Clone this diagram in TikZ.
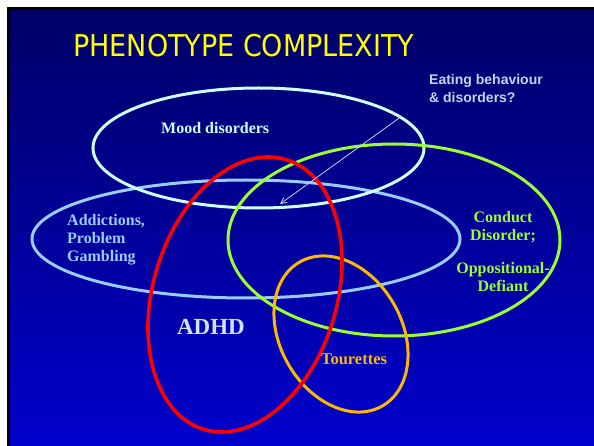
\documentclass[tikz,border=0pt]{standalone}
\usepackage{fontspec}
\setmainfont{Liberation Serif}
\setsansfont{Liberation Sans}
\newfontfamily\titlefont{DejaVu Sans Condensed}
\usetikzlibrary{arrows.meta}
\definecolor{slidetop}{HTML}{000066}
\definecolor{slidebot}{HTML}{0000CC}
\definecolor{moodc}{HTML}{CCFFFF}
\definecolor{addc}{HTML}{99CCFF}
\definecolor{condc}{HTML}{99FF33}
\definecolor{tourc}{HTML}{FFB800}
\definecolor{eatc}{HTML}{C4D4F4}
\definecolor{adhdc}{HTML}{CCE5FF}
\definecolor{titlec}{HTML}{FFFF00}
\begin{document}
\begin{tikzpicture}[x=1pt,y=-1pt,
  ring/.style={line width=3pt},
  lbl/.style={font=\bfseries\fontsize{16}{18}\selectfont, inner sep=0pt},
  pointer/.style={draw=eatc, line width=0.8pt, -{Straight Barb[length=6pt,width=6pt]}}]
\useasboundingbox (0,0) rectangle (594,446);
% slide background
\fill[white] (0,0) rectangle (594,446);
\shade[top color=slidetop, bottom color=slidebot] (8,8) rectangle (594,446);
\draw[black, line width=3pt] (8.5,446) -- (8.5,8.5) -- (594,8.5);

% title
\node[titlec, font=\titlefont\fontsize{30}{36}\selectfont, anchor=base west, inner sep=0pt] (title) at (73,57) {PHENOTYPE COMPLEXITY};

% overlapping phenotype sets
\draw[ring, addc] (246,239) ellipse [x radius=214, y radius=59];
\draw[ring, moodc] (258.5,148) ellipse [x radius=165.5, y radius=60];
\draw[ring, condc] (394,240) ellipse [x radius=166, y radius=96];
\draw[ring, tourc, rotate around={30:(341,334)}] (341,334) ellipse [x radius=60.8, y radius=83];
\draw[ring, red, line width=3.6pt, rotate around={-17:(245,294.5)}] (245,294.5) ellipse [x radius=91.8, y radius=141];

% labels
\node[lbl, moodc, anchor=base west] (mood) at (161,134) {Mood disorders};
\node[lbl, addc, anchor=north west, align=left] (add) at (67,214) {Addictions,\\Problem\\Gambling};
\node[lbl, condc, align=center] (cond) at (503,227) {Conduct\\Disorder;};
\node[lbl, condc, align=center] (odd) at (503,277) {Oppositional-\\Defiant};
\node[adhdc, font=\bfseries\fontsize{23}{27}\selectfont, inner sep=0pt] (adhd) at (211,327) {ADHD};
\node[lbl, tourc, font=\bfseries\fontsize{16.5}{19}\selectfont] (tour) at (354,359) {Tourettes};
\node[eatc, font=\sffamily\bfseries\fontsize{14}{18}\selectfont, align=left, anchor=north west, inner sep=0pt] (eat) at (429,74) {Eating behaviour\\\& disorders?};

% pointer into the shared region
\coordinate (ptrstart) at (402,116);
\coordinate (ptrend) at (280,204);
\draw[pointer] (ptrstart) -- (ptrend);
\end{tikzpicture}
\end{document}
